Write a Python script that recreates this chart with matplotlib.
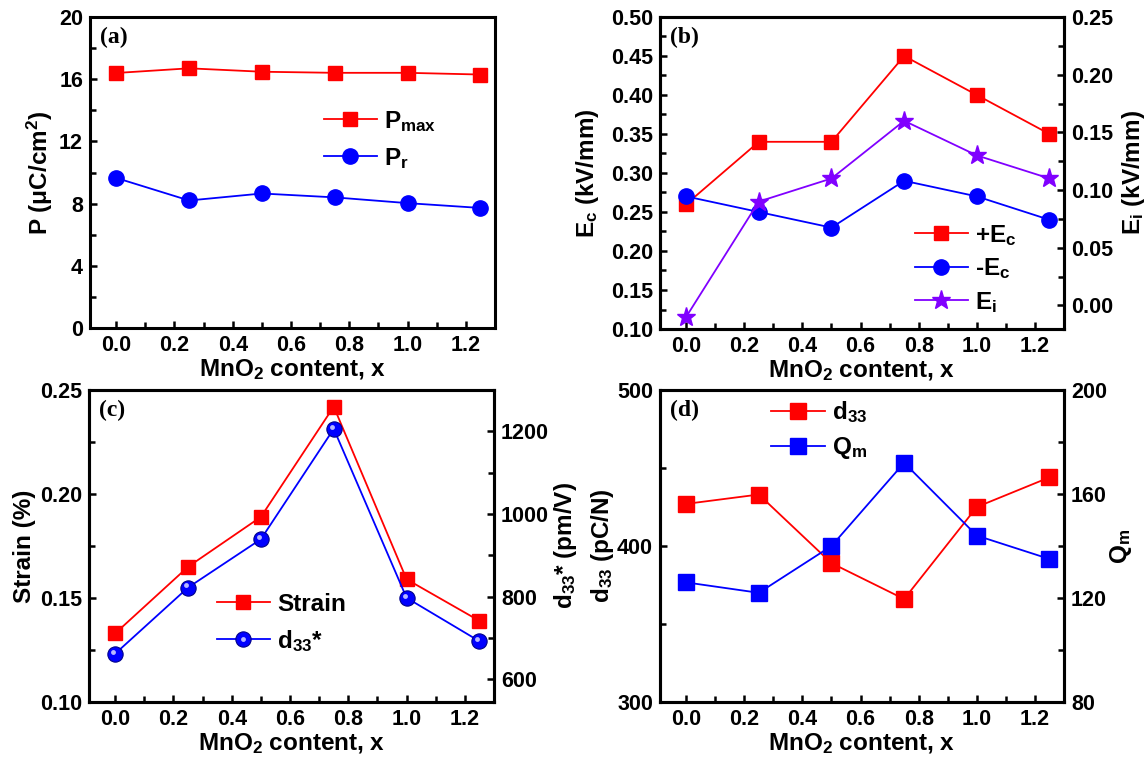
import matplotlib
matplotlib.use("Agg")
import matplotlib.pyplot as plt
import matplotlib.transforms as mtrans
from matplotlib.ticker import MultipleLocator, FuncFormatter
from matplotlib.legend_handler import HandlerTuple

plt.rcParams['font.family'] = ['Liberation Sans', 'DejaVu Sans']
plt.rcParams['font.weight'] = 'bold'
plt.rcParams['axes.labelweight'] = 'bold'
plt.rcParams['mathtext.fontset'] = 'custom'
plt.rcParams['mathtext.rm'] = 'Liberation Sans:bold'
plt.rcParams['mathtext.it'] = 'Liberation Sans:bold'
plt.rcParams['mathtext.bf'] = 'Liberation Sans:bold'
plt.rcParams['mathtext.default'] = 'rm'

# ---- data ----
x = [0.0, 0.25, 0.5, 0.75, 1.0, 1.25]
xticks = [0.0, 0.2, 0.4, 0.6, 0.8, 1.0, 1.2]

p_max = [16.4, 16.7, 16.48, 16.41, 16.41, 16.3]
p_r = [9.65, 8.2, 8.65, 8.4, 8.03, 7.72]

ec_plus = [0.26, 0.34, 0.34, 0.45, 0.40, 0.35]
ec_minus = [0.27, 0.25, 0.23, 0.29, 0.27, 0.24]
e_i = [-0.01, 0.09, 0.11, 0.16, 0.13, 0.11]

strain = [0.133, 0.165, 0.189, 0.242, 0.159, 0.139]
d33_star = [662, 822, 939, 1206, 797, 692]

d33 = [427, 433, 389, 366, 425, 444]
q_m = [126, 122, 140, 172, 144, 135]

RED = '#FF0000'
BLUE = '#0000FF'
VIOLET = '#8000FF'

W, H = 1148, 761
fig = plt.figure(figsize=(W / 100, H / 100), dpi=100)

TICK_FS = 15.5
LAB_FS = 17.5


def make_ax(l, r, t, b):
    return fig.add_axes([l / W, (H - b) / H, (r - l) / W, (b - t) / H])


def style(ax):
    for s in ax.spines.values():
        s.set_linewidth(2.2)
    ax.set_xlim(-0.09, 1.3)
    ax.set_xticks(xticks)
    ax.set_xticklabels([f"{v:.1f}" for v in xticks])
    ax.xaxis.set_minor_locator(MultipleLocator(0.1))
    ax.tick_params(axis='both', which='both', direction='in', labelsize=TICK_FS,
                   top=False, right=False, width=1.8, pad=5)
    ax.tick_params(which='major', length=5)
    ax.tick_params(which='minor', length=4)
    ax.set_xlabel("MnO$_2$ content, x", fontsize=LAB_FS, fontweight='bold', labelpad=1)


def style_right(ax2):
    ax2.tick_params(axis='y', which='both', direction='in', labelsize=TICK_FS,
                    width=1.8, pad=5, left=False, right=True)
    ax2.tick_params(which='major', length=5)
    ax2.tick_params(which='minor', length=4)
    for s in ax2.spines.values():
        s.set_linewidth(2.2)


def panel_label(ax, s):
    ax.text(0.025, 0.935, s, transform=ax.transAxes, fontsize=17,
            fontweight='bold', family='Liberation Serif', va='center', ha='left')


def bold_ticks(*axes):
    for a in axes:
        for lab in a.get_xticklabels() + a.get_yticklabels():
            lab.set_fontweight('bold')


lw = 1.3
leg_kw = dict(frameon=False, fontsize=LAB_FS, handlelength=2.2, handletextpad=0.3)

# ---- (a) ----
axa = make_ax(90, 495, 17, 328)
style(axa)
axa.plot(x, p_max, '-s', color=RED, ms=10.5, lw=lw, label='P$_{max}$')
axa.plot(x, p_r, '-o', color=BLUE, ms=11, lw=lw, label='P$_r$')
axa.set_ylim(0, 20)
axa.yaxis.set_major_locator(MultipleLocator(4))
axa.yaxis.set_minor_locator(MultipleLocator(2))
axa.set_ylabel("P (μC/cm$^2$)", fontsize=LAB_FS, fontweight='bold', labelpad=3)
axa.legend(loc='upper left', bbox_to_anchor=(0.523, 0.775), labelspacing=0.5, **leg_kw)
panel_label(axa, '(a)')

# ---- (b) ----
axb = make_ax(660, 1064, 17, 329)
style(axb)
axb2 = axb.twinx()
style_right(axb2)
lb1, = axb.plot(x, ec_plus, '-s', color=RED, ms=10.5, lw=lw, label='+E$_c$')
lb2, = axb.plot(x, ec_minus, '-o', color=BLUE, ms=11, lw=lw, label='-E$_c$')
lb3, = axb2.plot(x, e_i, '-*', color=VIOLET, ms=14, lw=lw, label='E$_i$')
axb.set_ylim(0.10, 0.50)
axb.yaxis.set_major_locator(MultipleLocator(0.05))
axb.yaxis.set_minor_locator(MultipleLocator(0.025))
axb.yaxis.set_major_formatter(FuncFormatter(lambda v, p: f"{v:.2f}"))
axb2.set_ylim(-0.0205, 0.25)
axb2.yaxis.set_major_locator(MultipleLocator(0.05))
axb2.yaxis.set_minor_locator(MultipleLocator(0.025))
axb2.yaxis.set_major_formatter(FuncFormatter(lambda v, p: f"{v:.2f}"))
axb.set_ylabel("E$_c$ (kV/mm)", fontsize=LAB_FS, fontweight='bold', labelpad=7)
axb2.set_ylabel("E$_i$ (kV/mm)", fontsize=LAB_FS, fontweight='bold', labelpad=5)
axb2.legend(handles=[lb1, lb2, lb3], loc='upper left', bbox_to_anchor=(0.576, 0.41),
            labelspacing=0.35, **leg_kw)
panel_label(axb, '(b)')

# ---- (c) ----
axc = make_ax(89, 494, 390, 702)
style(axc)
axc2 = axc.twinx()
style_right(axc2)
lc1, = axc.plot(x, strain, '-s', color=RED, ms=10.5, lw=lw, label='Strain')
lc2, = axc2.plot(x, d33_star, '-o', color=BLUE, ms=11, lw=lw, mec='#00008B',
                 mew=0.8, label='d$_{33}$*')
# glossy highlight on the spheres
hl_tr = axc2.transData + mtrans.ScaledTranslation(-1.5 / 72, 1.5 / 72, fig.dpi_scale_trans)
lc3, = axc2.plot(x, d33_star, 'o', color='#B8B8FF', ms=3.5, mew=0, transform=hl_tr)
axc.set_ylim(0.10, 0.25)
axc.yaxis.set_major_locator(MultipleLocator(0.05))
axc.yaxis.set_minor_locator(MultipleLocator(0.025))
axc.yaxis.set_major_formatter(FuncFormatter(lambda v, p: f"{v:.2f}"))
axc2.set_ylim(545, 1300)
axc2.yaxis.set_major_locator(MultipleLocator(200))
axc2.yaxis.set_minor_locator(MultipleLocator(100))
axc.set_ylabel("Strain (%)", fontsize=LAB_FS, fontweight='bold', labelpad=3)
axc2.set_ylabel("d$_{33}$* (pm/V)", fontsize=LAB_FS, fontweight='bold', labelpad=2)
axc2.legend(handles=[lc1, (lc2, lc3)], labels=['Strain', 'd$_{33}$*'],
            handler_map={tuple: HandlerTuple(ndivide=1)},
            loc='upper left', bbox_to_anchor=(0.261, 0.42),
            labelspacing=0.5, **leg_kw)
panel_label(axc, '(c)')

# ---- (d) ----
axd = make_ax(660, 1064, 390, 702)
style(axd)
axd2 = axd.twinx()
style_right(axd2)
ld1, = axd.plot(x, d33, '-s', color=RED, ms=11, lw=lw, label='d$_{33}$')
ld2, = axd2.plot(x, q_m, '-s', color=BLUE, ms=11, lw=lw, label='Q$_m$')
axd.set_ylim(300, 500)
axd.yaxis.set_major_locator(MultipleLocator(100))
axd.yaxis.set_minor_locator(MultipleLocator(50))
axd2.set_ylim(80, 200)
axd2.yaxis.set_major_locator(MultipleLocator(40))
axd2.yaxis.set_minor_locator(MultipleLocator(20))
axd.set_ylabel("d$_{33}$ (pC/N)", fontsize=LAB_FS, fontweight='bold', labelpad=1)
axd2.set_ylabel("Q$_m$", fontsize=LAB_FS, fontweight='bold', labelpad=1)
axd2.legend(handles=[ld1, ld2], loc='upper left', bbox_to_anchor=(0.221, 1.04),
            labelspacing=0.4, **leg_kw)
panel_label(axd, '(d)')

fig.canvas.draw()
bold_ticks(axa, axb, axb2, axc, axc2, axd, axd2)

fig.savefig('out.png', dpi=100)
